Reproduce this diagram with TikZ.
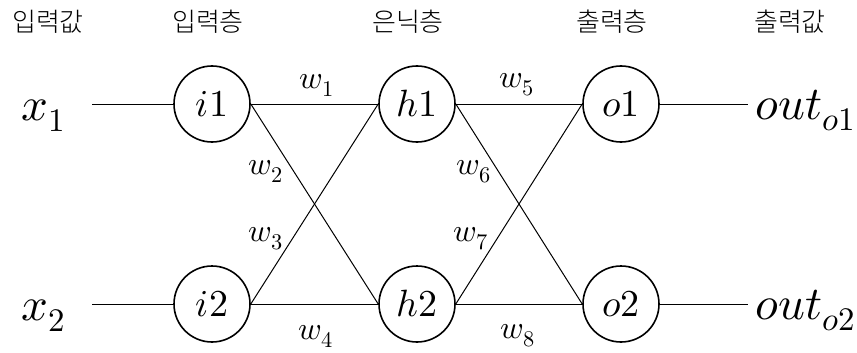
\documentclass[tikz,border=0pt]{standalone}
\usepackage{fontspec}
\usepackage{unicode-math}
\newfontfamily\kor{Noto Sans CJK KR}[UprightFont=* Light]
\tikzset{
  neuron/.style={circle, draw, line width=1.6pt, minimum size=76pt, inner sep=0pt, font=\fontsize{38}{40}\selectfont},
  layerlbl/.style={font=\kor\fontsize{26}{28}\selectfont, inner sep=0pt},
  iolbl/.style={font=\fontsize{47}{49}\selectfont, inner sep=0pt, anchor=base west},
  wlbl/.style={font=\fontsize{32}{34}\selectfont, inner sep=0pt},
  conn/.style={line width=1pt}
}
\begin{document}
\begin{tikzpicture}[x=1pt,y=-1pt]
\useasboundingbox (0,0) rectangle (857,353);
% layer titles
\node[layerlbl] (t1) at (48,22) {입력값};
\node[layerlbl] (t2) at (208,22) {입력층};
\node[layerlbl] (t3) at (408,22) {은닉층};
\node[layerlbl] (t4) at (612,22) {출력층};
\node[layerlbl] (t5) at (790,22) {출력값};
% neurons
\node[neuron] (i1) at (212,104) {$i1$};
\node[neuron] (i2) at (212,304) {$i2$};
\node[neuron] (h1) at (417,104) {$h1$};
\node[neuron] (h2) at (417,304) {$h2$};
\node[neuron] (o1) at (621,104) {$o1$};
\node[neuron] (o2) at (621,304) {$o2$};
% inputs / outputs
\node[iolbl] (x1) at (21,120) {$x_1$};
\node[iolbl] (x2) at (21,320) {$x_2$};
\node[iolbl] (y1) at (755,119) {$out_{o1}$};
\node[iolbl] (y2) at (755,319) {$out_{o2}$};
\coordinate (a1) at (92,104);
\coordinate (a2) at (92,304);
\coordinate (b1) at (748,104);
\coordinate (b2) at (748,304);
\draw[conn] (a1) -- (i1.west);
\draw[conn] (a2) -- (i2.west);
\draw[conn] (o1.east) -- (b1);
\draw[conn] (o2.east) -- (b2);
% weights connections
\draw[conn] (i1.east) -- (h1.west);
\draw[conn] (i1.east) -- (h2.west);
\draw[conn] (i2.east) -- (h1.west);
\draw[conn] (i2.east) -- (h2.west);
\draw[conn] (h1.east) -- (o1.west);
\draw[conn] (h1.east) -- (o2.west);
\draw[conn] (h2.east) -- (o1.west);
\draw[conn] (h2.east) -- (o2.west);
% weight labels
\node[wlbl] (w1) at (317,85) {$w_1$};
\node[wlbl] (w2) at (266,171) {$w_2$};
\node[wlbl] (w3) at (266,239) {$w_3$};
\node[wlbl] (w4) at (316,336) {$w_4$};
\node[wlbl] (w5) at (517,85) {$w_5$};
\node[wlbl] (w6) at (474,172) {$w_6$};
\node[wlbl] (w7) at (471,239) {$w_7$};
\node[wlbl] (w8) at (518,336) {$w_8$};
\end{tikzpicture}
\end{document}
